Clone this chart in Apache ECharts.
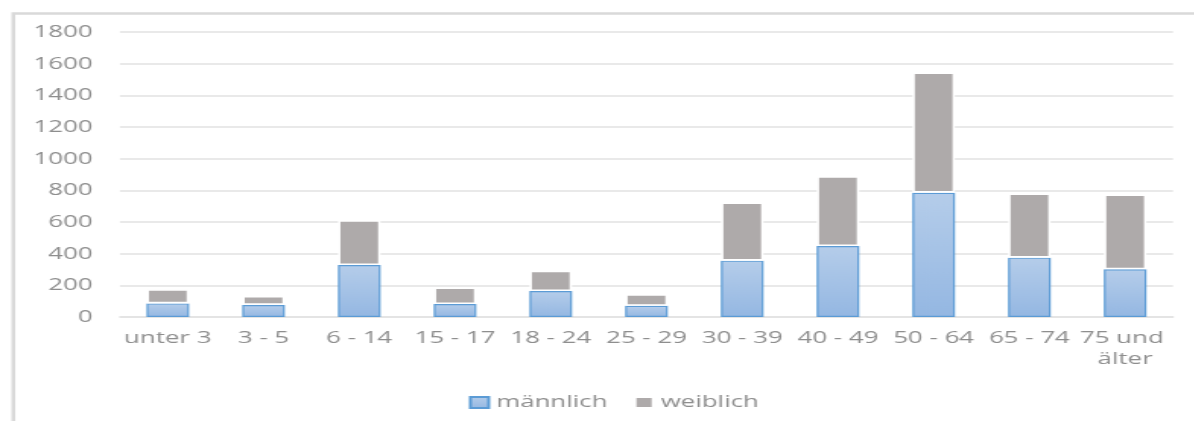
<!DOCTYPE html>
<html>
<head>
<meta charset="utf-8">
<script src="https://cdn.jsdelivr.net/npm/echarts@6/dist/echarts.min.js"></script>
<style>
  html, body { margin: 0; padding: 0; background: #fff; overflow: hidden; width: 1194px; height: 421px; }
  #c { width: 786px; height: 421px; transform: scaleX(1.52); transform-origin: 0 0; }
</style>
</head>
<body>
<div id="c"></div>
<script>
const categories = ['unter 3', '3 - 5', '6 - 14', '15 - 17', '18 - 24', '25 - 29', '30 - 39', '40 - 49', '50 - 64', '65 - 74', '75 und älter'];
const maleValues = [86, 76, 328, 82, 164, 71, 356, 448, 785, 375, 301];
const femaleValues = [90, 58, 284, 105, 128, 74, 368, 442, 760, 406, 474];
const seriesNames = ['männlich', 'weiblich'];
const yTicks = { min: 0, max: 1800, interval: 200 };

const textColor = '#8e8e8e';
const fontFamily = '"Open Sans", sans-serif';

const chart = echarts.init(document.getElementById('c'), null, { renderer: 'canvas' });
chart.setOption({
  backgroundColor: '#ffffff',
  animation: false,
  textStyle: { fontFamily: fontFamily, color: textColor },
  graphic: [{
    type: 'rect',
    left: 6.3, top: 11,
    shape: { width: 1000, height: 500 },
    style: { fill: 'none', stroke: '#d9d9d9', lineWidth: 2.5 },
    silent: true
  }],
  grid: { left: 78.9, right: 14.3, top: 32, bottom: 104, containLabel: false },
  legend: {
    data: seriesNames,
    left: 303.5, top: 389,
    icon: 'rect',
    itemWidth: 12, itemHeight: 11, itemGap: 17,
    textStyle: { fontFamily: fontFamily, fontSize: 17, color: textColor }
  },
  xAxis: {
    type: 'category',
    data: categories,
    axisLine: { show: true, lineStyle: { color: '#e2e2e2', width: 1.5 } },
    axisTick: { show: false },
    axisLabel: {
      interval: 0, margin: 11, fontSize: 17, lineHeight: 21,
      color: textColor, fontFamily: fontFamily,
      width: 64, overflow: 'break'
    }
  },
  yAxis: {
    type: 'value',
    min: yTicks.min, max: yTicks.max, interval: yTicks.interval,
    axisLine: { show: false },
    axisTick: { show: false },
    axisLabel: { margin: 18, fontSize: 17, color: textColor, fontFamily: fontFamily,
      formatter: function (v) { return String(v); } },
    splitLine: { lineStyle: { color: '#e2e2e2', width: 1.5 } }
  },
  series: [
    {
      name: seriesNames[0],
      type: 'bar',
      stack: 'total',
      barWidth: 28,
      data: maleValues,
      itemStyle: {
        color: new echarts.graphic.LinearGradient(0, 0, 0, 1, [
          { offset: 0, color: '#b5cdea' },
          { offset: 1, color: '#94b7e2' }
        ]),
        borderColor: '#5b9bd5',
        borderWidth: 1.2
      }
    },
    {
      name: seriesNames[1],
      type: 'bar',
      stack: 'total',
      barWidth: 28,
      data: femaleValues,
      itemStyle: {
        color: '#aeaaaa',
        borderColor: '#ffffff',
        borderWidth: 1.6
      }
    }
  ]
});
</script>
</body>
</html>
